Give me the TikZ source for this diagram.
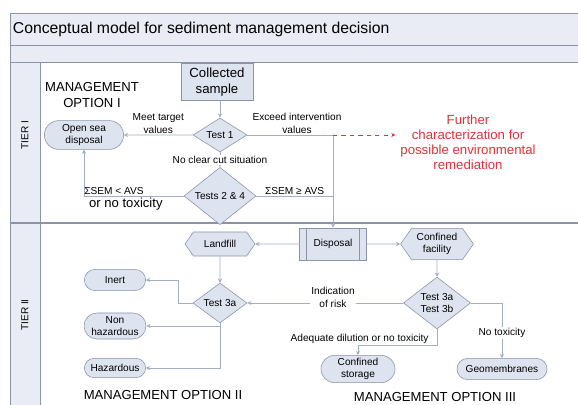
\documentclass[tikz,border=0pt]{standalone}
\usepackage{fontspec}
\setmainfont{Liberation Sans}
\usetikzlibrary{shapes.geometric,shapes.misc,shapes.symbols,arrows.meta,positioning}

\definecolor{bandfill}{HTML}{E9ECF4}
\definecolor{boxfill}{HTML}{DDE3EF}
\definecolor{edgegray}{HTML}{8A93A7}
\definecolor{wiregray}{HTML}{A3AEC6}
\definecolor{remred}{HTML}{E0323C}

\tikzset{
  small/.style={font=\fontsize{7.2}{8.6}\selectfont},
  lbl/.style={small, align=center, inner sep=1pt},
  box/.style={small, draw=edgegray, fill=boxfill, align=center, inner sep=1pt},
  term/.style={box, rounded rectangle},
  test/.style={box, diamond, inner sep=0pt},
  hexa/.style={box, signal, signal to=east and west, signal pointer angle=110},
  wire/.style={draw=wiregray, line width=0.6pt, -{Stealth[length=3pt,width=3pt]}},
  option/.style={font=\fontsize{9.3}{11.5}\selectfont, align=center}
}

\begin{document}
\begin{tikzpicture}[x=0.025cm,y=-0.025cm]
  \useasboundingbox (0,0) rectangle (578,405);

  % Swimlane frame
  \draw[edgegray, fill=bandfill] (10,13) rectangle (578,45);
  \draw[edgegray, fill=bandfill] (10,45) rectangle (578,62);
  \draw[edgegray, fill=white] (10,62) rectangle (578,223);
  \draw[edgegray, fill=white] (10,223) rectangle (578,405);
  \draw[edgegray, fill=bandfill] (10,62) rectangle (40,223);
  \draw[edgegray, fill=bandfill] (10,223) rectangle (40,405);
  \draw[edgegray, line width=1.2pt] (10,223) -- (578,223);

  \node[anchor=west, font=\fontsize{11.2}{13}\selectfont] (title) at (8,29) {Conceptual model for sediment management decision};
  \node[small, rotate=90] (tier1) at (25,135) {TIER I};
  \node[small, rotate=90] (tier2) at (25,315) {TIER II};

  % Tier I
  \node[box, rectangle, minimum width=1.8cm, minimum height=0.92cm, font=\fontsize{9.4}{11}\selectfont] (sample) at (217,82) {Collected\\sample};
  \node[test, minimum width=1.35cm, minimum height=0.65cm] (t1) at (220,135) {Test 1};
  \node[term, minimum width=2.05cm, minimum height=0.72cm] (opensea) at (84,135) {Open sea\\disposal};
  \node[test, minimum width=1.8cm, minimum height=0.8cm] (t24) at (220,196) {Tests 2 \& 4};
  \node[option] (mo1) at (92,95) {MANAGEMENT\\OPTION I};
  \node[font=\fontsize{9.4}{10.6}\selectfont, text=remred, align=center] (further) at (468,142)
    {Further\\characterization for\\possible environmental\\remediation};

  % Tier II
  \node[box, rectangle, minimum width=1.68cm, minimum height=0.8cm] (disp) at (333,244) {Disposal};
  \draw[edgegray] ([xshift=0.18cm]disp.north west) -- ([xshift=0.18cm]disp.south west);
  \draw[edgegray] ([xshift=-0.18cm]disp.north east) -- ([xshift=-0.18cm]disp.south east);
  \node[hexa, minimum width=1.75cm, minimum height=0.6cm] (landfill) at (220,244) {Landfill};
  \node[hexa, minimum width=1.82cm, minimum height=0.78cm] (cfac) at (437,244) {Confined\\facility};
  \node[test, minimum width=1.35cm, minimum height=0.75cm] (t3a) at (220,303) {Test 3a};
  \node[test, minimum width=1.68cm, minimum height=0.92cm] (t3b) at (437,303) {Test 3a\\Test 3b};
  \node[term, minimum width=1.6cm, minimum height=0.53cm] (inert) at (115,280) {Inert};
  \node[term, minimum width=1.62cm, minimum height=0.65cm] (nonhaz) at (115,326) {Non\\hazardous};
  \node[term, minimum width=1.6cm, minimum height=0.48cm] (haz) at (115,368) {Hazardous};
  \node[term, minimum width=1.92cm, minimum height=0.68cm] (cstore) at (358,369) {Confined\\storage};
  \node[term, minimum width=2.32cm, minimum height=0.53cm] (geo) at (502,369) {Geomembranes};
  \node[option] (mo2) at (163,395) {MANAGEMENT OPTION II};
  \node[option] (mo3) at (435,397) {MANAGEMENT OPTION III};

  % Connectors, tier I
  \draw[wire] (sample.south -| t1.north) -- (t1);
  \draw[wire] (t1) -- (opensea) node[lbl, midway, above] {Meet target\\values};
  \draw[wire] (t1) -- (t24) node[lbl, midway, fill=white] {No clear cut situation};
  \draw[wire] (t24.west) -| (opensea.south)
    node[lbl, pos=0.35, above] {ΣSEM < AVS}
    node[option, pos=0.29, below, inner sep=1pt] {or no toxicity};
  \draw[wire] (t1.east) -| (disp.north)
    node[lbl, pos=0.29, above] {Exceed intervention\\values};
  \coordinate (split) at (disp.north |- t1.east);
  \draw[remred, dashed, line width=0.6pt, -{Stealth[length=3pt,width=3pt]}] (split) -- (further.west |- split);
  \draw[draw=wiregray, line width=0.6pt] (t24.east) -- (t24.east -| disp.north)
    node[lbl, midway, above] {ΣSEM ≥ AVS};

  % Connectors, tier II
  \draw[wire] (disp) -- (landfill);
  \draw[wire] (disp) -- (cfac);
  \draw[wire] (landfill) -- (t3a);
  \draw[wire] (t3a.west) -- ++(-14,0) |- (inert);
  \draw[wire] (t3a.south) |- (nonhaz);
  \draw[wire] (t3a.south) |- (haz);
  \draw[wire] (cfac) -- (t3b);
  \draw[wire] (t3b) -- (t3a) node[lbl, pos=0.45, fill=white, yshift=0.14cm] {Indication\\of risk};
  \draw[wire] (t3b.south) -- ++(0,16) -| (cstore.north)
    node[lbl, pos=0.49, above] {Adequate dilution or no toxicity};
  \draw[wire] (t3b.east) -| (geo.north) node[lbl, pos=0.77, fill=white] {No toxicity};
\end{tikzpicture}
\end{document}
